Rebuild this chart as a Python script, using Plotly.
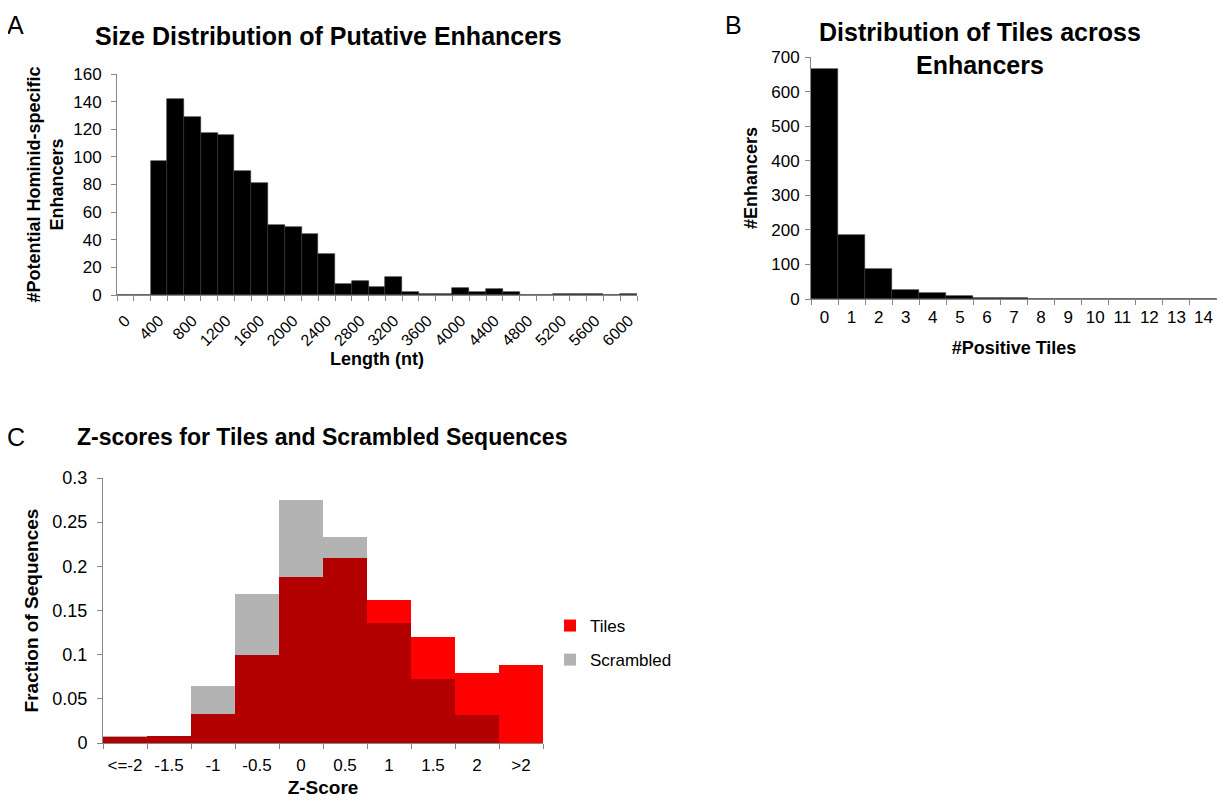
import plotly.graph_objects as go

# ---------------- data ----------------
# Panel A: size distribution (bins of 200 nt)
size_bins = [str(v) for v in range(0, 6001, 200)]
size_counts = [0, 0, 97, 142, 129, 117, 116, 90, 81, 51, 49, 44, 30, 8, 10, 6,
               13, 2, 1, 1, 5, 2, 4, 2, 0, 0, 1, 1, 1, 0, 1]
size_label_every = 2

# Panel B: number of positive tiles per enhancer
tile_bins = [str(v) for v in range(0, 15)]
tile_counts = [665, 185, 87, 25, 16, 10, 2, 2, 0, 0, 0, 0, 0, 0, 0]

# Panel C: Z-score distributions
z_bins = ["<=-2", "-1.5", "-1", "-0.5", "0", "0.5", "1", "1.5", "2", ">2"]
tiles_frac = [0.007, 0.008, 0.033, 0.100, 0.188, 0.209, 0.162, 0.120, 0.079, 0.088]
scrambled_frac = [0.008, 0.008, 0.064, 0.169, 0.275, 0.233, 0.136, 0.072, 0.032, 0.0]
z_yticks = [0, 0.05, 0.1, 0.15, 0.2, 0.25, 0.3]
z_yticktext = ["0", "0.05", "0.1", "0.15", "0.2", "0.25", "0.3"]

# ---------------- styles ----------------
PAGE_OFF = 8                     # default body margin of the html page
W, H = 1225 - 2 * PAGE_OFF, 806 - 2 * PAGE_OFF
FONT = "Liberation Sans, Arial, sans-serif"
AXIS_GRAY = "#868686"
RED = "#FF0000"
GRAY = "#B3B3B3"
DARK_RED = "#B30000"


def px_x(v):
    return (v - PAGE_OFF) / W


def px_y(v):
    return 1 - (v - PAGE_OFF) / H


overlap = [min(a, b) for a, b in zip(tiles_frac, scrambled_frac)]

fig = go.Figure()

# Panel A
fig.add_trace(go.Bar(x=size_bins, y=size_counts, xaxis="x", yaxis="y",
                     marker=dict(color="black", line=dict(color="#333333", width=0.6)),
                     showlegend=False))
# Panel B
fig.add_trace(go.Bar(x=tile_bins, y=tile_counts, xaxis="x2", yaxis="y2",
                     marker=dict(color="black", line=dict(color="#333333", width=0.6)),
                     showlegend=False))
# Panel C
fig.add_trace(go.Bar(x=z_bins, y=tiles_frac, xaxis="x3", yaxis="y3", name="Tiles",
                     legendgroup="tiles", marker=dict(color=RED, line=dict(width=0))))
fig.add_trace(go.Bar(x=z_bins, y=scrambled_frac, xaxis="x3", yaxis="y3", name="Scrambled",
                     legendgroup="scr", marker=dict(color=GRAY, line=dict(width=0))))
fig.add_trace(go.Bar(x=z_bins, y=overlap, xaxis="x3", yaxis="y3", name="overlap",
                     legendgroup="ov", marker=dict(color=DARK_RED, line=dict(width=0)),
                     showlegend=False))


def tf(size):
    return dict(family=FONT, size=size, color="black")


common_x = dict(type="category", showline=True, linecolor=AXIS_GRAY, linewidth=1,
                ticks="outside", tickcolor=AXIS_GRAY, ticklen=5, tickson="boundaries",
                showgrid=False, zeroline=False, automargin=False, fixedrange=True)
common_y = dict(showline=True, linecolor=AXIS_GRAY, linewidth=1, ticks="outside",
                tickcolor=AXIS_GRAY, ticklen=5, showgrid=False, zeroline=False,
                automargin=False, fixedrange=True)

size_text = [lab if i % size_label_every == 0 else "" for i, lab in enumerate(size_bins)]

fig.update_layout(
    width=W, height=H,
    margin=dict(l=0, r=0, t=0, b=0),
    paper_bgcolor="white", plot_bgcolor="white",
    barmode="overlay", bargap=0,
    font=dict(family=FONT, color="black"),
    xaxis=dict(common_x, domain=[px_x(117), px_x(637)], anchor="y",
               range=[-0.5, len(size_bins) - 0.5],
               tickmode="array", tickvals=size_bins, ticktext=size_text, tickangle=-45,
               tickfont=tf(16), ticklabelstandoff=9,
               title=dict(text="<b>Length (nt)</b>", font=tf(18), standoff=4)),
    yaxis=dict(common_y, domain=[px_y(295), px_y(74)], anchor="x", range=[0, 160], dtick=20,
               tickfont=tf(17), ticklabelstandoff=6,
               title=dict(text="<b>#Potential Hominid-specific<br>Enhancers</b>", font=tf(18),
                          standoff=4)),
    xaxis2=dict(common_x, domain=[px_x(811), px_x(1217)], anchor="y2",
                range=[-0.5, len(tile_bins) - 0.5], tickfont=tf(17), tickangle=0,
                ticklabelstandoff=3,
                title=dict(text="<b>#Positive Tiles</b>", font=tf(18), standoff=14)),
    yaxis2=dict(common_y, domain=[px_y(299), px_y(57)], anchor="x2", range=[0, 700], dtick=100,
                tickfont=tf(17), ticklabelstandoff=2,
                title=dict(text="<b>#Enhancers</b>", font=tf(18), standoff=8)),
    xaxis3=dict(common_x, domain=[px_x(103), px_x(543)], anchor="y3",
                range=[-0.5, len(z_bins) - 0.5], tickfont=tf(17), tickangle=0,
                ticklabelstandoff=7,
                title=dict(text="<b>Z-Score</b>", font=tf(19), standoff=16)),
    yaxis3=dict(common_y, domain=[px_y(743), px_y(478)], anchor="x3", range=[0, 0.3],
                tickmode="array", tickvals=z_yticks, ticktext=z_yticktext,
                tickfont=tf(18), ticklabelstandoff=6,
                title=dict(text="<b>Fraction of Sequences</b>", font=tf(19), standoff=8)),
    legend=dict(x=px_x(550), y=px_y(608), xanchor="left", yanchor="top",
                font=tf(17), itemwidth=30, tracegroupgap=9, bgcolor="rgba(0,0,0,0)"),
    annotations=[
        dict(text="A", x=px_x(15), y=px_y(25), xref="paper", yref="paper", showarrow=False,
             xanchor="center", yanchor="middle", font=tf(25)),
        dict(text="B", x=px_x(733), y=px_y(25), xref="paper", yref="paper", showarrow=False,
             xanchor="center", yanchor="middle", font=tf(25)),
        dict(text="C", x=px_x(16), y=px_y(437), xref="paper", yref="paper", showarrow=False,
             xanchor="center", yanchor="middle", font=tf(25)),
        dict(text="<b>Size Distribution of Putative Enhancers</b>", x=px_x(328), y=px_y(36),
             xref="paper", yref="paper", showarrow=False, xanchor="center", yanchor="middle",
             font=tf(25)),
        dict(text="<b>Distribution of Tiles across<br>Enhancers</b>", x=px_x(980), y=px_y(48),
             xref="paper", yref="paper", showarrow=False, xanchor="center", yanchor="middle",
             font=tf(25)),
        dict(text="<b>Z-scores for Tiles and Scrambled Sequences</b>", x=px_x(322), y=px_y(437),
             xref="paper", yref="paper", showarrow=False, xanchor="center", yanchor="middle",
             font=tf(23)),
    ],
)

fig.write_html("out.html")
